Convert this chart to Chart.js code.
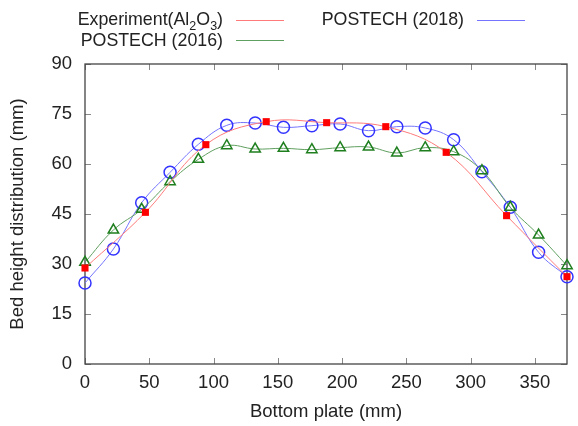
<!DOCTYPE html>
<html>
<head>
<meta charset="utf-8">
<script src="https://cdn.jsdelivr.net/npm/chart.js@4"></script>
<style>
body { margin: 0; background: #fff; }
#wrap { position: relative; width: 578px; height: 426px; font-family: "Liberation Sans", Arial, sans-serif; color: #222; }
#chart { position: absolute; left: 0; top: 0; }
.key { position: absolute; font-size: 17.8px; text-align: right; white-space: nowrap; line-height: 20px; }
.key sub { font-size: 12.5px; vertical-align: -5px; line-height: 0; }
.sample { position: absolute; height: 0; width: 48px; border-top: 1px solid; }
</style>
</head>
<body>
<div id="wrap">
<canvas id="chart" width="578" height="426"></canvas>
<div class="key" style="right:355px;top:9px;">Experiment(Al<sub>2</sub>O<sub>3</sub>)</div>
<span class="sample" style="left:236px;top:20px;border-color:#ff7a7a;"></span>
<div class="key" style="right:355px;top:30px;">POSTECH (2016)</div>
<span class="sample" style="left:236px;top:40px;border-color:#5f9f5f;"></span>
<div class="key" style="right:114px;top:9px;">POSTECH (2018)</div>
<span class="sample" style="left:477px;top:20px;border-color:#7474ff;"></span>
</div>
<script>
// experiment (9 points, every 375/8 mm)
var expX = [0, 47, 94, 141, 188, 234, 281, 328, 375];
var expY = [28.8, 45.5, 65.8, 72.7, 72.4, 71.2, 63.5, 44.5, 26.2];

// simulations (18 points, every 375/17 mm)
var simX = [0, 22.1, 44.1, 66.2, 88.2, 110.3, 132.4, 154.4, 176.5, 198.5, 220.6, 242.6, 264.7, 286.8, 308.8, 330.9, 352.9, 375];
var p2016 = [30.5, 40.2, 46.4, 54.7, 61.4, 65.5, 64.5, 64.7, 64.3, 64.9, 65.1, 63.3, 64.9, 63.7, 58.0, 47.0, 38.7, 29.5];
var p2018 = [24.3, 34.5, 48.4, 57.5, 65.9, 71.6, 72.3, 71.0, 71.5, 72.0, 70.0, 71.2, 70.8, 67.3, 57.7, 47.0, 33.5, 26.2];

var xTicks = [0, 50, 100, 150, 200, 250, 300, 350];
var yTicks = [0, 15, 30, 45, 60, 75, 90];

function pts(xs, ys) {
	var out = [];
	for(var i = 0;i < xs.length;++i) {
		out.push({x: xs[i], y: ys[i]});
	}
	return out;
}

// gnuplot style box with inward ticks on all four sides
var framePlugin = {
	id: 'frame',
	beforeDatasetsDraw: function(chart) {
		var ctx = chart.ctx;
		var a = chart.chartArea;
		var xs = chart.scales.x, ys = chart.scales.y;
		var len = 6;
		ctx.save();
		ctx.lineWidth = 1;
		ctx.strokeStyle = '#888';
		ctx.beginPath();
		xTicks.forEach(function(v) {
			var px = Math.round(xs.getPixelForValue(v)) + 0.5;
			ctx.moveTo(px, a.bottom); ctx.lineTo(px, a.bottom - len);
			ctx.moveTo(px, a.top); ctx.lineTo(px, a.top + len);
		});
		yTicks.forEach(function(v) {
			var py = Math.round(ys.getPixelForValue(v)) + 0.5;
			ctx.moveTo(a.left, py); ctx.lineTo(a.left + len, py);
			ctx.moveTo(a.right, py); ctx.lineTo(a.right - len, py);
		});
		ctx.stroke();
		ctx.strokeStyle = '#444';
		ctx.lineWidth = 1.3;
		ctx.strokeRect(a.left, a.top, a.right - a.left, a.bottom - a.top);
		ctx.restore();
	}
};

var tickFont = {family: '"Liberation Sans", Arial, sans-serif', size: 18.5};

var config = {
	type: 'line',
	data: {
		datasets: [{
			label: 'Experiment(Al2O3)',
			data: pts(expX, expY),
			borderColor: '#ff7a7a',
			borderWidth: 1,
			backgroundColor: '#ff0000',
			pointStyle: 'rect',
			pointRadius: 5,
			pointBorderWidth: 0,
			pointBackgroundColor: '#ff0000',
			tension: 0.4,
			clip: false,
			fill: false
		}, {
			label: 'POSTECH (2016)',
			data: pts(simX, p2016),
			borderColor: '#5f9f5f',
			borderWidth: 1,
			pointStyle: 'triangle',
			pointRadius: 6,
			pointBorderWidth: 1.5,
			pointBorderColor: '#1f7f1f',
			pointBackgroundColor: 'rgba(0,0,0,0)',
			tension: 0.4,
			clip: false,
			fill: false
		}, {
			label: 'POSTECH (2018)',
			data: pts(simX, p2018),
			borderColor: '#7474ff',
			borderWidth: 1,
			pointStyle: 'circle',
			pointRadius: 6,
			pointBorderWidth: 1.5,
			pointBorderColor: '#3333ff',
			pointBackgroundColor: 'rgba(0,0,0,0)',
			tension: 0.4,
			clip: false,
			fill: false
		}]
	},
	options: {
		responsive: false,
		animation: false,
		devicePixelRatio: 1,
		layout: {padding: {top: 64, right: 11, left: 0, bottom: 0}},
		plugins: {
			legend: {display: false},
			tooltip: {enabled: false}
		},
		scales: {
			x: {
				type: 'linear',
				min: 0,
				max: 375,
				afterBuildTicks: function(s) { s.ticks = xTicks.map(function(v) { return {value: v}; }); },
				afterFit: function(s) { s.height = 62; },
				grid: {display: false, drawTicks: false},
				border: {display: false},
				ticks: {font: tickFont, color: '#222', padding: 8, maxRotation: 0},
				title: {display: true, text: 'Bottom plate (mm)', font: tickFont, color: '#222', padding: {top: 0, bottom: 3}}
			},
			y: {
				min: 0,
				max: 90,
				afterBuildTicks: function(s) { s.ticks = yTicks.map(function(v) { return {value: v}; }); },
				afterFit: function(s) { s.width = 85; },
				grid: {display: false, drawTicks: false},
				border: {display: false},
				ticks: {font: tickFont, color: '#222', padding: 13},
				title: {display: true, text: 'Bed height distribution (mm)', font: tickFont, color: '#222', padding: {top: 7, bottom: 0}}
			}
		}
	},
	plugins: [framePlugin]
};

new Chart(document.getElementById('chart'), config);
</script>
</body>
</html>
